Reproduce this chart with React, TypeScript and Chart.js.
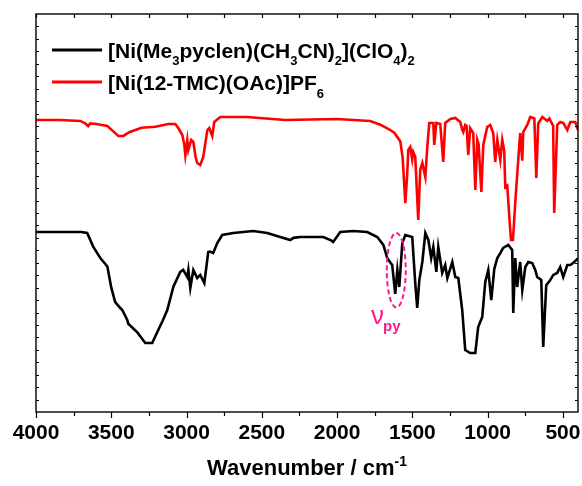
import React, { useEffect, useRef } from "react";
import { Chart, registerables } from "chart.js";

Chart.register(...registerables);

// ---- data (wavenumber in cm^-1, signal in arbitrary units) ----
const redWn = [4000, 3839, 3706, 3673, 3653, 3640, 3600, 3526, 3490, 3453, 3420, 3380, 3300, 3208, 3121, 3075, 3055, 3028, 3015, 3008, 2995, 2988, 2969, 2955, 2940, 2929, 2909, 2889, 2862, 2849, 2829, 2816, 2776, 2600, 2344, 2000, 1780, 1713, 1667, 1647, 1620, 1580, 1565, 1547, 1535, 1527, 1514, 1501, 1494, 1481, 1461, 1448, 1434, 1414, 1401, 1388, 1361, 1355, 1341, 1315, 1295, 1282, 1248, 1215, 1182, 1169, 1162, 1149, 1140, 1129, 1116, 1096, 1082, 1069, 1060, 1042, 1029, 1003, 983, 963, 950, 936, 916, 903, 890, 883, 870, 855, 845, 832, 817, 797, 784, 770, 764, 737, 717, 690, 677, 664, 637, 604, 590, 565, 558, 538, 518, 498, 471, 451, 418, 400];
const redY = [23.48, 23.48, 23.40, 23.2, 22.99, 23.2, 23.16, 23.0, 22.6, 22.19, 22.2, 22.5, 22.85, 22.94, 23.16, 23.16, 22.83, 22.27, 21.5, 20.66, 21.87, 21.07, 21.87, 21.71, 20.5, 20.02, 19.86, 20.5, 22.67, 22.83, 22.19, 23.32, 23.72, 23.72, 23.48, 23.56, 23.4, 23.1, 22.8, 22.67, 22.45, 21.75, 20.5, 16.8, 19.0, 21.07, 21.31, 20.3, 20.9, 20.5, 15.44, 19.46, 20.02, 18.89, 21.31, 23.24, 23.24, 21.47, 23.24, 23.16, 20.1, 23.24, 23.56, 23.64, 23.32, 22.7, 22.51, 23.08, 23.0, 20.66, 22.83, 22.43, 17.85, 21.87, 21.5, 17.69, 21.47, 22.91, 23.08, 22.43, 20.1, 21.87, 20.26, 21.87, 21.0, 18.09, 18.2, 15.44, 13.83, 13.83, 16.8, 20.26, 22.43, 20.2, 22.51, 23.08, 23.72, 23.6, 18.81, 23.2, 23.72, 23.4, 23.6, 23.0, 16.0, 23.08, 23.32, 23.24, 22.67, 23.32, 23.32, 22.67];

const blackWn = [4000, 3700, 3660, 3620, 3573, 3526, 3500, 3474, 3440, 3427, 3394, 3387, 3327, 3274, 3228, 3188, 3160, 3128, 3088, 3042, 3022, 2995, 2988, 2975, 2955, 2929, 2909, 2882, 2856, 2845, 2823, 2796, 2763, 2690, 2557, 2464, 2378, 2311, 2290, 2245, 2092, 2040, 2026, 1979, 1893, 1800, 1733, 1693, 1667, 1640, 1634, 1614, 1600, 1587, 1567, 1547, 1501, 1481, 1468, 1454, 1434, 1414, 1394, 1375, 1361, 1341, 1328, 1302, 1282, 1268, 1235, 1215, 1195, 1169, 1149, 1116, 1082, 1063, 1036, 1016, 996, 976, 956, 936, 916, 897, 863, 837, 830, 817, 804, 784, 770, 750, 730, 704, 684, 671, 644, 631, 611, 584, 564, 538, 518, 498, 471, 451, 430, 405, 400];
const blackY = [14.47, 14.47, 14.39, 13.3, 12.38, 11.7, 10.0, 8.84, 8.36, 8.2, 7.4, 7.1, 6.4, 5.55, 5.55, 6.59, 7.3, 8.2, 10.05, 11.26, 11.42, 10.85, 11.42, 9.97, 11.42, 10.77, 11.02, 10.37, 12.86, 12.9, 12.78, 13.59, 14.23, 14.39, 14.55, 14.39, 14.07, 13.83, 14.0, 14.07, 14.07, 13.8, 13.67, 14.47, 14.55, 14.47, 14.07, 13.43, 12.38, 11.9, 11.82, 9.5, 11.42, 10.05, 13.59, 14.23, 14.07, 10.37, 8.36, 10.61, 12.06, 14.39, 13.83, 12.38, 13.27, 11.26, 13.27, 11.18, 11.82, 10.77, 12.06, 10.85, 10.77, 8.2, 4.98, 4.74, 4.74, 6.83, 7.64, 10.45, 11.42, 9.0, 11.5, 12.38, 12.78, 13.19, 13.43, 13.03, 7.96, 12.38, 10.05, 12.06, 9.81, 11.66, 12.06, 11.98, 11.42, 10.85, 10.61, 5.23, 10.2, 10.61, 11.02, 11.18, 11.66, 10.85, 11.82, 11.82, 12.0, 12.3, 12.3];

const xMajorTicks = [4000, 3500, 3000, 2500, 2000, 1500, 1000, 500];
const xMinorTicks = [3750, 3250, 2750, 2250, 1750, 1250, 750];
const xMin = 400;
const xMax = 4000;
const yMin = 0;
const yMax = 32;

// legend entries as rich text segments
const blackLabel = [
  { t: "[Ni(Me" }, { t: "3", sub: true }, { t: "pyclen)(CH" }, { t: "3", sub: true },
  { t: "CN)" }, { t: "2", sub: true }, { t: "](ClO" }, { t: "4", sub: true }, { t: ")" }, { t: "2", sub: true },
];
const redLabel = [{ t: "[Ni(12-TMC)(OAc)]PF" }, { t: "6", sub: true }];

// annotation (ν_py) in data units
const pyEllipse = { x: 1607, y: 11.4, rx: 63, ry: 3.0 };
const pyLabel = { x: 1775, y: 7.1 };

const FONT = '"Liberation Sans", Arial, Helvetica, sans-serif';
const PINK = "#ff1a8c";

type Seg = { t: string; sub?: boolean; sup?: boolean };

function drawRich(ctx: CanvasRenderingContext2D, segs: Seg[], x: number, y: number, size: number, weight = "bold") {
  let cx = x;
  for (const s of segs) {
    const small = s.sub || s.sup;
    const fs = small ? Math.round(size * 0.64) : size;
    ctx.font = `${weight} ${fs}px ${FONT}`;
    const dy = s.sub ? size * 0.36 : s.sup ? -size * 0.42 : 0;
    ctx.fillText(s.t, cx, y + dy);
    cx += ctx.measureText(s.t).width;
  }
  return cx - x;
}

const decor = {
  id: "decor",
  afterDraw(chart: any) {
    const { ctx, chartArea: a, scales } = chart;
    const xs = scales.x;
    const ys = scales.y;
    ctx.save();
    ctx.strokeStyle = "#000";
    ctx.lineWidth = 1.4;
    ctx.strokeRect(a.left, a.top, a.right - a.left, a.bottom - a.top);

    ctx.lineWidth = 1.2;
    ctx.beginPath();
    for (const v of xMajorTicks) {
      const px = Math.round(xs.getPixelForValue(v)) + 0.5;
      ctx.moveTo(px, a.bottom);
      ctx.lineTo(px, a.bottom + 6);
      ctx.moveTo(px, a.top);
      ctx.lineTo(px, a.top + 4);
    }
    for (const v of xMinorTicks) {
      const px = Math.round(xs.getPixelForValue(v)) + 0.5;
      ctx.moveTo(px, a.bottom);
      ctx.lineTo(px, a.bottom + 4);
      ctx.moveTo(px, a.top);
      ctx.lineTo(px, a.top + 4);
    }
    for (let v = yMin + 1; v < yMax; v++) {
      const py = Math.round(ys.getPixelForValue(v)) + 0.5;
      ctx.moveTo(a.left, py);
      ctx.lineTo(a.left + 3, py);
      ctx.moveTo(a.right, py);
      ctx.lineTo(a.right - 3, py);
    }
    ctx.stroke();

    // legend
    ctx.lineWidth = 3;
    ctx.strokeStyle = "#000";
    ctx.beginPath();
    ctx.moveTo(52, 50);
    ctx.lineTo(102, 50);
    ctx.stroke();
    ctx.strokeStyle = "#ff0000";
    ctx.beginPath();
    ctx.moveTo(52, 82);
    ctx.lineTo(102, 82);
    ctx.stroke();
    ctx.fillStyle = "#000";
    ctx.textBaseline = "alphabetic";
    ctx.textAlign = "left";
    drawRich(ctx, blackLabel, 108, 57.5, 21);
    drawRich(ctx, redLabel, 108, 90, 21);

    // axis title
    const title: Seg[] = [{ t: "Wavenumber / cm" }, { t: "-1", sup: true }];
    ctx.font = `bold 22px ${FONT}`;
    const w1 = ctx.measureText("Wavenumber / cm").width;
    ctx.font = `bold 14px ${FONT}`;
    const w2 = ctx.measureText("-1").width;
    const cxT = (a.left + a.right) / 2;
    drawRich(ctx, title, cxT - (w1 + w2) / 2, 475, 22);

    // ν_py annotation
    const ecx = xs.getPixelForValue(pyEllipse.x);
    const ecy = ys.getPixelForValue(pyEllipse.y);
    const erx = Math.abs(xs.getPixelForValue(pyEllipse.x - pyEllipse.rx) - ecx);
    const ery = Math.abs(ys.getPixelForValue(pyEllipse.y + pyEllipse.ry) - ecy);
    ctx.strokeStyle = PINK;
    ctx.lineWidth = 2;
    ctx.setLineDash([5, 3]);
    ctx.beginPath();
    ctx.ellipse(ecx, ecy, erx, ery, 0, 0, Math.PI * 2);
    ctx.stroke();
    ctx.setLineDash([]);
    ctx.fillStyle = PINK;
    const lx = xs.getPixelForValue(pyLabel.x);
    const ly = ys.getPixelForValue(pyLabel.y);
    ctx.font = `26px ${FONT}`;
    ctx.fillText("ν", lx, ly);
    const nw = ctx.measureText("ν").width;
    ctx.font = `bold 15px ${FONT}`;
    ctx.fillText("py", lx + nw - 1, ly + 7);
    ctx.restore();
  },
};

export default function App() {
  const ref = useRef<HTMLCanvasElement | null>(null);
  useEffect(() => {
    if (!ref.current) return;
    const chart = new Chart(ref.current, {
      type: "line",
      data: {
        datasets: [
          {
            label: "black",
            data: blackWn.map((w, i) => ({ x: w, y: blackY[i] })),
            borderColor: "#000000",
            borderWidth: 2.6,
            pointRadius: 0,
            tension: 0,
            fill: false,
          },
          {
            label: "red",
            data: redWn.map((w, i) => ({ x: w, y: redY[i] })),
            borderColor: "#ff0000",
            borderWidth: 2.6,
            pointRadius: 0,
            tension: 0,
            fill: false,
          },
        ],
      },
      options: {
        responsive: false,
        animation: false,
        layout: { padding: { left: 36, top: 14, right: 4, bottom: 0 } },
        plugins: { legend: { display: false }, tooltip: { enabled: false }, title: { display: false } },
        scales: {
          x: {
            type: "linear",
            reverse: true,
            min: xMin,
            max: xMax,
            afterBuildTicks: (sc: any) => {
              sc.ticks = xMajorTicks.map((v) => ({ value: v }));
            },
            afterFit: (sc: any) => {
              sc.height = 74;
              sc.paddingLeft = 0;
              sc.paddingRight = 0;
            },
            grid: { display: false, drawTicks: false },
            border: { display: false },
            ticks: {
              autoSkip: false,
              maxRotation: 0,
              padding: 9,
              color: "#000",
              font: { family: FONT, size: 21, weight: "bold" },
              callback: (v: any) => String(v),
            },
          },
          y: { display: false, min: yMin, max: yMax },
        },
      },
      plugins: [decor],
    } as any);
    return () => chart.destroy();
  }, []);
  return (
    <div style={{ position: "absolute", left: 0, top: 0, width: 582, height: 486, background: "#fff" }}>
      <canvas ref={ref} width={582} height={486} style={{ display: "block" }} />
    </div>
  );
}
